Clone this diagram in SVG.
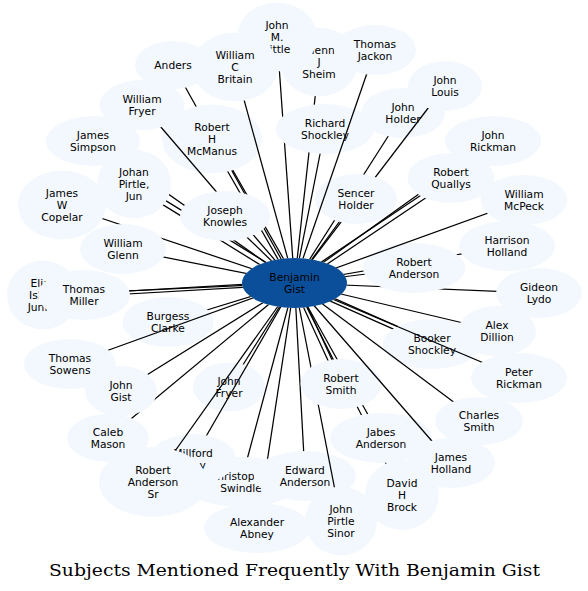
<svg xmlns="http://www.w3.org/2000/svg" width="588" height="591" viewBox="0 0 588 591">
<style>
.nd{fill:#f3f8fe}
.ctr{fill:#0b4f9b}
.lb{font-family:"DejaVu Sans","Liberation Sans",sans-serif;font-size:10.7px;text-anchor:middle;fill:#000}
.ed{stroke:#000;stroke-width:1.25;fill:none}
.ttl{font-family:"DejaVu Serif","Liberation Serif",serif;font-size:17.5px;text-anchor:middle;fill:#000}
.mk{fill:#000}
</style>
<defs>
<ellipse id="k-bg" class="mk" cx="294.5" cy="283" rx="52.5" ry="25"/>
<ellipse id="k-eli" class="mk" cx="43" cy="295" rx="36" ry="34.5"/>
<ellipse id="k-tmi" class="mk" cx="84" cy="295" rx="46" ry="25"/>
<ellipse id="k-cop" class="mk" cx="62" cy="205" rx="44" ry="34.5"/>
<ellipse id="k-wgl" class="mk" cx="123" cy="249" rx="43" ry="25"/>
<ellipse id="k-and" class="mk" cx="173" cy="65" rx="38" ry="24"/>
<ellipse id="k-mcm" class="mk" cx="212" cy="139" rx="50" ry="34.5"/>
<ellipse id="k-wfr" class="mk" cx="142" cy="105" rx="42.5" ry="25"/>
<ellipse id="k-jsi" class="mk" cx="93" cy="141" rx="47" ry="25"/>
<ellipse id="k-joh" class="mk" cx="134" cy="184" rx="37" ry="34.5"/>
<ellipse id="k-jkn" class="mk" cx="225" cy="216" rx="45" ry="25"/>
<ellipse id="k-gsh" class="mk" cx="319" cy="62" rx="39" ry="34.5"/>
<ellipse id="k-jml" class="mk" cx="277" cy="37" rx="40" ry="34.5"/>
<ellipse id="k-wcb" class="mk" cx="235" cy="67" rx="43" ry="34.5"/>
<ellipse id="k-jho" class="mk" cx="403" cy="113" rx="42" ry="25"/>
<ellipse id="k-jlo" class="mk" cx="445" cy="86" rx="37" ry="25"/>
<ellipse id="k-sho" class="mk" cx="356" cy="199" rx="41" ry="25"/>
<ellipse id="k-rsh" class="mk" cx="325" cy="129" rx="49" ry="25"/>
<ellipse id="k-tja" class="mk" cx="375" cy="50" rx="41" ry="25"/>
<ellipse id="k-jri" class="mk" cx="493" cy="141" rx="48" ry="25"/>
<ellipse id="k-rqu" class="mk" cx="451" cy="178" rx="43.5" ry="25"/>
<ellipse id="k-wmc" class="mk" cx="524" cy="200" rx="43.5" ry="25"/>
<ellipse id="k-hho" class="mk" cx="507" cy="246" rx="48" ry="25"/>
<ellipse id="k-gly" class="mk" cx="539" cy="293" rx="43" ry="25"/>
<ellipse id="k-ran" class="mk" cx="414" cy="268" rx="51" ry="25"/>
<ellipse id="k-adi" class="mk" cx="497" cy="331" rx="39" ry="25"/>
<ellipse id="k-bsh" class="mk" cx="432" cy="344" rx="49" ry="25"/>
<ellipse id="k-pri" class="mk" cx="519" cy="378" rx="48" ry="25"/>
<ellipse id="k-csm" class="mk" cx="479" cy="421" rx="44" ry="24"/>
<ellipse id="k-dhb" class="mk" cx="402" cy="495" rx="37" ry="35"/>
<ellipse id="k-jab" class="mk" cx="381" cy="438" rx="51" ry="25"/>
<ellipse id="k-jhl" class="mk" cx="451" cy="463" rx="44" ry="25"/>
<ellipse id="k-aab" class="mk" cx="257" cy="528" rx="53" ry="25"/>
<ellipse id="k-csw" class="mk" cx="241" cy="482" rx="59" ry="25"/>
<ellipse id="k-ean" class="mk" cx="305" cy="476" rx="51" ry="25"/>
<ellipse id="k-jps" class="mk" cx="341" cy="521" rx="36" ry="34.5"/>
<ellipse id="k-rsm" class="mk" cx="341" cy="384" rx="40.5" ry="25"/>
<ellipse id="k-jfr" class="mk" cx="229" cy="387" rx="36" ry="24.5"/>
<ellipse id="k-mil" class="mk" cx="193" cy="459" rx="43" ry="25"/>
<ellipse id="k-ras" class="mk" cx="153" cy="482" rx="54" ry="35"/>
<ellipse id="k-cma" class="mk" cx="108" cy="438" rx="41" ry="24"/>
<ellipse id="k-jgi" class="mk" cx="121" cy="391" rx="36" ry="25"/>
<ellipse id="k-bcl" class="mk" cx="168" cy="322" rx="45.5" ry="25"/>
<ellipse id="k-tso" class="mk" cx="70" cy="364" rx="46" ry="25"/>
<rect id="mw" width="588" height="591" fill="#fff"/>
<mask id="m-eli" maskUnits="userSpaceOnUse" x="0" y="0" width="588" height="591"><use href="#mw"/><use href="#k-bg"/><use href="#k-eli"/><use href="#k-tmi"/></mask>
<mask id="m-tmi" maskUnits="userSpaceOnUse" x="0" y="0" width="588" height="591"><use href="#mw"/><use href="#k-bg"/><use href="#k-tmi"/></mask>
<mask id="m-cop" maskUnits="userSpaceOnUse" x="0" y="0" width="588" height="591"><use href="#mw"/><use href="#k-bg"/><use href="#k-cop"/><use href="#k-wgl"/></mask>
<mask id="m-wgl" maskUnits="userSpaceOnUse" x="0" y="0" width="588" height="591"><use href="#mw"/><use href="#k-bg"/><use href="#k-wgl"/></mask>
<mask id="m-and" maskUnits="userSpaceOnUse" x="0" y="0" width="588" height="591"><use href="#mw"/><use href="#k-bg"/><use href="#k-and"/><use href="#k-mcm"/><use href="#k-jkn"/></mask>
<mask id="m-mcm" maskUnits="userSpaceOnUse" x="0" y="0" width="588" height="591"><use href="#mw"/><use href="#k-bg"/><use href="#k-mcm"/><use href="#k-jkn"/></mask>
<mask id="m-wfr" maskUnits="userSpaceOnUse" x="0" y="0" width="588" height="591"><use href="#mw"/><use href="#k-bg"/><use href="#k-wfr"/><use href="#k-jkn"/></mask>
<mask id="m-jsi" maskUnits="userSpaceOnUse" x="0" y="0" width="588" height="591"><use href="#mw"/><use href="#k-bg"/><use href="#k-jsi"/><use href="#k-joh"/><use href="#k-jkn"/></mask>
<mask id="m-joh" maskUnits="userSpaceOnUse" x="0" y="0" width="588" height="591"><use href="#mw"/><use href="#k-bg"/><use href="#k-joh"/><use href="#k-jkn"/></mask>
<mask id="m-jkn" maskUnits="userSpaceOnUse" x="0" y="0" width="588" height="591"><use href="#mw"/><use href="#k-bg"/><use href="#k-jkn"/></mask>
<mask id="m-gsh" maskUnits="userSpaceOnUse" x="0" y="0" width="588" height="591"><use href="#mw"/><use href="#k-bg"/><use href="#k-gsh"/><use href="#k-rsh"/></mask>
<mask id="m-jml" maskUnits="userSpaceOnUse" x="0" y="0" width="588" height="591"><use href="#mw"/><use href="#k-bg"/><use href="#k-jml"/><use href="#k-wcb"/><use href="#k-rsh"/></mask>
<mask id="m-wcb" maskUnits="userSpaceOnUse" x="0" y="0" width="588" height="591"><use href="#mw"/><use href="#k-bg"/><use href="#k-wcb"/></mask>
<mask id="m-jho" maskUnits="userSpaceOnUse" x="0" y="0" width="588" height="591"><use href="#mw"/><use href="#k-bg"/><use href="#k-jho"/><use href="#k-sho"/></mask>
<mask id="m-jlo" maskUnits="userSpaceOnUse" x="0" y="0" width="588" height="591"><use href="#mw"/><use href="#k-bg"/><use href="#k-jlo"/><use href="#k-sho"/></mask>
<mask id="m-sho" maskUnits="userSpaceOnUse" x="0" y="0" width="588" height="591"><use href="#mw"/><use href="#k-bg"/><use href="#k-sho"/></mask>
<mask id="m-rsh" maskUnits="userSpaceOnUse" x="0" y="0" width="588" height="591"><use href="#mw"/><use href="#k-bg"/><use href="#k-rsh"/></mask>
<mask id="m-tja" maskUnits="userSpaceOnUse" x="0" y="0" width="588" height="591"><use href="#mw"/><use href="#k-bg"/><use href="#k-tja"/></mask>
<mask id="m-jri" maskUnits="userSpaceOnUse" x="0" y="0" width="588" height="591"><use href="#mw"/><use href="#k-bg"/><use href="#k-jri"/><use href="#k-rqu"/></mask>
<mask id="m-rqu" maskUnits="userSpaceOnUse" x="0" y="0" width="588" height="591"><use href="#mw"/><use href="#k-bg"/><use href="#k-rqu"/></mask>
<mask id="m-wmc" maskUnits="userSpaceOnUse" x="0" y="0" width="588" height="591"><use href="#mw"/><use href="#k-bg"/><use href="#k-wmc"/></mask>
<mask id="m-hho" maskUnits="userSpaceOnUse" x="0" y="0" width="588" height="591"><use href="#mw"/><use href="#k-bg"/><use href="#k-hho"/><use href="#k-ran"/></mask>
<mask id="m-gly" maskUnits="userSpaceOnUse" x="0" y="0" width="588" height="591"><use href="#mw"/><use href="#k-bg"/><use href="#k-gly"/><use href="#k-ran"/></mask>
<mask id="m-ran" maskUnits="userSpaceOnUse" x="0" y="0" width="588" height="591"><use href="#mw"/><use href="#k-bg"/><use href="#k-ran"/></mask>
<mask id="m-adi" maskUnits="userSpaceOnUse" x="0" y="0" width="588" height="591"><use href="#mw"/><use href="#k-bg"/><use href="#k-adi"/></mask>
<mask id="m-bsh" maskUnits="userSpaceOnUse" x="0" y="0" width="588" height="591"><use href="#mw"/><use href="#k-bg"/><use href="#k-bsh"/></mask>
<mask id="m-pri" maskUnits="userSpaceOnUse" x="0" y="0" width="588" height="591"><use href="#mw"/><use href="#k-bg"/><use href="#k-pri"/></mask>
<mask id="m-csm" maskUnits="userSpaceOnUse" x="0" y="0" width="588" height="591"><use href="#mw"/><use href="#k-bg"/><use href="#k-csm"/></mask>
<mask id="m-dhb" maskUnits="userSpaceOnUse" x="0" y="0" width="588" height="591"><use href="#mw"/><use href="#k-bg"/><use href="#k-dhb"/><use href="#k-jab"/><use href="#k-rsm"/></mask>
<mask id="m-jab" maskUnits="userSpaceOnUse" x="0" y="0" width="588" height="591"><use href="#mw"/><use href="#k-bg"/><use href="#k-jab"/><use href="#k-rsm"/></mask>
<mask id="m-jhl" maskUnits="userSpaceOnUse" x="0" y="0" width="588" height="591"><use href="#mw"/><use href="#k-bg"/><use href="#k-jhl"/></mask>
<mask id="m-aab" maskUnits="userSpaceOnUse" x="0" y="0" width="588" height="591"><use href="#mw"/><use href="#k-bg"/><use href="#k-aab"/><use href="#k-csw"/><use href="#k-ean"/></mask>
<mask id="m-csw" maskUnits="userSpaceOnUse" x="0" y="0" width="588" height="591"><use href="#mw"/><use href="#k-bg"/><use href="#k-csw"/></mask>
<mask id="m-ean" maskUnits="userSpaceOnUse" x="0" y="0" width="588" height="591"><use href="#mw"/><use href="#k-bg"/><use href="#k-ean"/><use href="#k-rsm"/></mask>
<mask id="m-jps" maskUnits="userSpaceOnUse" x="0" y="0" width="588" height="591"><use href="#mw"/><use href="#k-bg"/><use href="#k-jps"/><use href="#k-rsm"/></mask>
<mask id="m-rsm" maskUnits="userSpaceOnUse" x="0" y="0" width="588" height="591"><use href="#mw"/><use href="#k-bg"/><use href="#k-rsm"/></mask>
<mask id="m-jfr" maskUnits="userSpaceOnUse" x="0" y="0" width="588" height="591"><use href="#mw"/><use href="#k-bg"/><use href="#k-jfr"/></mask>
<mask id="m-mil" maskUnits="userSpaceOnUse" x="0" y="0" width="588" height="591"><use href="#mw"/><use href="#k-bg"/><use href="#k-mil"/></mask>
<mask id="m-ras" maskUnits="userSpaceOnUse" x="0" y="0" width="588" height="591"><use href="#mw"/><use href="#k-bg"/><use href="#k-ras"/></mask>
<mask id="m-cma" maskUnits="userSpaceOnUse" x="0" y="0" width="588" height="591"><use href="#mw"/><use href="#k-bg"/><use href="#k-cma"/><use href="#k-jgi"/></mask>
<mask id="m-jgi" maskUnits="userSpaceOnUse" x="0" y="0" width="588" height="591"><use href="#mw"/><use href="#k-bg"/><use href="#k-jgi"/></mask>
<mask id="m-bcl" maskUnits="userSpaceOnUse" x="0" y="0" width="588" height="591"><use href="#mw"/><use href="#k-bg"/><use href="#k-bcl"/></mask>
<mask id="m-tso" maskUnits="userSpaceOnUse" x="0" y="0" width="588" height="591"><use href="#mw"/><use href="#k-bg"/><use href="#k-tso"/></mask>
</defs>
<rect width="588" height="591" fill="#fff"/>
<g id="nodes">
<g id="n-benjamin-gist"><ellipse class="ctr" cx="294.5" cy="283" rx="52.5" ry="25"/><text class="lb" x="294.5" y="281"><tspan x="294.5">Benjamin</tspan><tspan x="294.5" dy="12">Gist</tspan></text></g>
<g id="n-elias"><ellipse class="nd" cx="43" cy="295" rx="36" ry="34.5"/><text class="lb" x="43" y="287"><tspan x="43">Elias</tspan><tspan x="43" dy="12">Isbell</tspan><tspan x="43" dy="12">Junior</tspan></text></g>
<g id="n-thomas-miller"><ellipse class="nd" cx="84" cy="295" rx="46" ry="25"/><text class="lb" x="84" y="293"><tspan x="84">Thomas</tspan><tspan x="84" dy="12">Miller</tspan></text></g>
<g id="n-james-w-copelar"><ellipse class="nd" cx="62" cy="205" rx="44" ry="34.5"/><text class="lb" x="62" y="197"><tspan x="62">James</tspan><tspan x="62" dy="12">W</tspan><tspan x="62" dy="12">Copelar</tspan></text></g>
<g id="n-william-glenn"><ellipse class="nd" cx="123" cy="249" rx="43" ry="25"/><text class="lb" x="123" y="247"><tspan x="123">William</tspan><tspan x="123" dy="12">Glenn</tspan></text></g>
<g id="n-anders"><ellipse class="nd" cx="173" cy="65" rx="38" ry="24"/><text class="lb" x="173" y="69">Anders</text></g>
<g id="n-robert-h-mcmanus"><ellipse class="nd" cx="212" cy="139" rx="50" ry="34.5"/><text class="lb" x="212" y="131"><tspan x="212">Robert</tspan><tspan x="212" dy="12">H</tspan><tspan x="212" dy="12">McManus</tspan></text></g>
<g id="n-william-fryer"><ellipse class="nd" cx="142" cy="105" rx="42.5" ry="25"/><text class="lb" x="142" y="103"><tspan x="142">William</tspan><tspan x="142" dy="12">Fryer</tspan></text></g>
<g id="n-james-simpson"><ellipse class="nd" cx="93" cy="141" rx="47" ry="25"/><text class="lb" x="93" y="139"><tspan x="93">James</tspan><tspan x="93" dy="12">Simpson</tspan></text></g>
<g id="n-johan-pirtle-jun"><ellipse class="nd" cx="134" cy="184" rx="37" ry="34.5"/><text class="lb" x="134" y="176"><tspan x="134">Johan</tspan><tspan x="134" dy="12">Pirtle,</tspan><tspan x="134" dy="12">Jun</tspan></text></g>
<g id="n-joseph-knowles"><ellipse class="nd" cx="225" cy="216" rx="45" ry="25"/><text class="lb" x="225" y="214"><tspan x="225">Joseph</tspan><tspan x="225" dy="12">Knowles</tspan></text></g>
<g id="n-glenn-j-sheim"><ellipse class="nd" cx="319" cy="62" rx="39" ry="34.5"/><text class="lb" x="319" y="54"><tspan x="319">Glenn</tspan><tspan x="319" dy="12">J</tspan><tspan x="319" dy="12">Sheim</tspan></text></g>
<g id="n-john-m-little"><ellipse class="nd" cx="277" cy="37" rx="40" ry="34.5"/><text class="lb" x="277" y="29"><tspan x="277">John</tspan><tspan x="277" dy="12">M.</tspan><tspan x="277" dy="12">Little</tspan></text></g>
<g id="n-william-c-britain"><ellipse class="nd" cx="235" cy="67" rx="43" ry="34.5"/><text class="lb" x="235" y="59"><tspan x="235">William</tspan><tspan x="235" dy="12">C</tspan><tspan x="235" dy="12">Britain</tspan></text></g>
<g id="n-john-holder"><ellipse class="nd" cx="403" cy="113" rx="42" ry="25"/><text class="lb" x="403" y="111"><tspan x="403">John</tspan><tspan x="403" dy="12">Holder</tspan></text></g>
<g id="n-john-louis"><ellipse class="nd" cx="445" cy="86" rx="37" ry="25"/><text class="lb" x="445" y="84"><tspan x="445">John</tspan><tspan x="445" dy="12">Louis</tspan></text></g>
<g id="n-sencer-holder"><ellipse class="nd" cx="356" cy="199" rx="41" ry="25"/><text class="lb" x="356" y="197"><tspan x="356">Sencer</tspan><tspan x="356" dy="12">Holder</tspan></text></g>
<g id="n-richard-shockley"><ellipse class="nd" cx="325" cy="129" rx="49" ry="25"/><text class="lb" x="325" y="127"><tspan x="325">Richard</tspan><tspan x="325" dy="12">Shockley</tspan></text></g>
<g id="n-thomas-jackon"><ellipse class="nd" cx="375" cy="50" rx="41" ry="25"/><text class="lb" x="375" y="48"><tspan x="375">Thomas</tspan><tspan x="375" dy="12">Jackon</tspan></text></g>
<g id="n-john-rickman"><ellipse class="nd" cx="493" cy="141" rx="48" ry="25"/><text class="lb" x="493" y="139"><tspan x="493">John</tspan><tspan x="493" dy="12">Rickman</tspan></text></g>
<g id="n-robert-quallys"><ellipse class="nd" cx="451" cy="178" rx="43.5" ry="25"/><text class="lb" x="451" y="176"><tspan x="451">Robert</tspan><tspan x="451" dy="12">Quallys</tspan></text></g>
<g id="n-william-mcpeck"><ellipse class="nd" cx="524" cy="200" rx="43.5" ry="25"/><text class="lb" x="524" y="198"><tspan x="524">William</tspan><tspan x="524" dy="12">McPeck</tspan></text></g>
<g id="n-harrison-holland"><ellipse class="nd" cx="507" cy="246" rx="48" ry="25"/><text class="lb" x="507" y="244"><tspan x="507">Harrison</tspan><tspan x="507" dy="12">Holland</tspan></text></g>
<g id="n-gideon-lydo"><ellipse class="nd" cx="539" cy="293" rx="43" ry="25"/><text class="lb" x="539" y="291"><tspan x="539">Gideon</tspan><tspan x="539" dy="12">Lydo</tspan></text></g>
<g id="n-robert-anderson"><ellipse class="nd" cx="414" cy="268" rx="51" ry="25"/><text class="lb" x="414" y="266"><tspan x="414">Robert</tspan><tspan x="414" dy="12">Anderson</tspan></text></g>
<g id="n-alex-dillion"><ellipse class="nd" cx="497" cy="331" rx="39" ry="25"/><text class="lb" x="497" y="329"><tspan x="497">Alex</tspan><tspan x="497" dy="12">Dillion</tspan></text></g>
<g id="n-booker-shockley"><ellipse class="nd" cx="432" cy="344" rx="49" ry="25"/><text class="lb" x="432" y="342"><tspan x="432">Booker</tspan><tspan x="432" dy="12">Shockley</tspan></text></g>
<g id="n-peter-rickman"><ellipse class="nd" cx="519" cy="378" rx="48" ry="25"/><text class="lb" x="519" y="376"><tspan x="519">Peter</tspan><tspan x="519" dy="12">Rickman</tspan></text></g>
<g id="n-charles-smith"><ellipse class="nd" cx="479" cy="421" rx="44" ry="24"/><text class="lb" x="479" y="419"><tspan x="479">Charles</tspan><tspan x="479" dy="12">Smith</tspan></text></g>
<g id="n-david-h-brock"><ellipse class="nd" cx="402" cy="495" rx="37" ry="35"/><text class="lb" x="402" y="487"><tspan x="402">David</tspan><tspan x="402" dy="12">H</tspan><tspan x="402" dy="12">Brock</tspan></text></g>
<g id="n-jabes-anderson"><ellipse class="nd" cx="381" cy="438" rx="51" ry="25"/><text class="lb" x="381" y="436"><tspan x="381">Jabes</tspan><tspan x="381" dy="12">Anderson</tspan></text></g>
<g id="n-james-holland"><ellipse class="nd" cx="451" cy="463" rx="44" ry="25"/><text class="lb" x="451" y="461"><tspan x="451">James</tspan><tspan x="451" dy="12">Holland</tspan></text></g>
<g id="n-alexander-abney"><ellipse class="nd" cx="257" cy="528" rx="53" ry="25"/><text class="lb" x="257" y="526"><tspan x="257">Alexander</tspan><tspan x="257" dy="12">Abney</tspan></text></g>
<g id="n-christopher-swindle"><ellipse class="nd" cx="241" cy="482" rx="59" ry="25"/><text class="lb" x="241" y="480"><tspan x="241">Christopher</tspan><tspan x="241" dy="12">Swindle</tspan></text></g>
<g id="n-edward-anderson"><ellipse class="nd" cx="305" cy="476" rx="51" ry="25"/><text class="lb" x="305" y="474"><tspan x="305">Edward</tspan><tspan x="305" dy="12">Anderson</tspan></text></g>
<g id="n-john-pirtle-sinor"><ellipse class="nd" cx="341" cy="521" rx="36" ry="34.5"/><text class="lb" x="341" y="513"><tspan x="341">John</tspan><tspan x="341" dy="12">Pirtle</tspan><tspan x="341" dy="12">Sinor</tspan></text></g>
<g id="n-robert-smith"><ellipse class="nd" cx="341" cy="384" rx="40.5" ry="25"/><text class="lb" x="341" y="382"><tspan x="341">Robert</tspan><tspan x="341" dy="12">Smith</tspan></text></g>
<g id="n-john-fryer"><ellipse class="nd" cx="229" cy="387" rx="36" ry="24.5"/><text class="lb" x="229" y="385"><tspan x="229">John</tspan><tspan x="229" dy="12">Fryer</tspan></text></g>
<g id="n-millford"><ellipse class="nd" cx="193" cy="459" rx="43" ry="25"/><text class="lb" x="193" y="457"><tspan x="193">Millford</tspan><tspan x="193" dy="12">Gray</tspan></text></g>
<g id="n-robert-anderson-sr"><ellipse class="nd" cx="153" cy="482" rx="54" ry="35"/><text class="lb" x="153" y="474"><tspan x="153">Robert</tspan><tspan x="153" dy="12">Anderson</tspan><tspan x="153" dy="12">Sr</tspan></text></g>
<g id="n-caleb-mason"><ellipse class="nd" cx="108" cy="438" rx="41" ry="24"/><text class="lb" x="108" y="436"><tspan x="108">Caleb</tspan><tspan x="108" dy="12">Mason</tspan></text></g>
<g id="n-john-gist"><ellipse class="nd" cx="121" cy="391" rx="36" ry="25"/><text class="lb" x="121" y="389"><tspan x="121">John</tspan><tspan x="121" dy="12">Gist</tspan></text></g>
<g id="n-burgess-clarke"><ellipse class="nd" cx="168" cy="322" rx="45.5" ry="25"/><text class="lb" x="168" y="320"><tspan x="168">Burgess</tspan><tspan x="168" dy="12">Clarke</tspan></text></g>
<g id="n-thomas-sowens"><ellipse class="nd" cx="70" cy="364" rx="46" ry="25"/><text class="lb" x="70" y="362"><tspan x="70">Thomas</tspan><tspan x="70" dy="12">Sowens</tspan></text></g>
</g>
<g id="connectors">
<line class="ed" mask="url(#m-eli)" x1="294.5" y1="283" x2="43" y2="295"/>
<line class="ed" mask="url(#m-tmi)" x1="294.4" y1="281.5" x2="83.9" y2="293.5"/>
<line class="ed" mask="url(#m-tmi)" x1="294.6" y1="284.5" x2="84.1" y2="296.5"/>
<line class="ed" mask="url(#m-cop)" x1="294.5" y1="283" x2="62" y2="205"/>
<line class="ed" mask="url(#m-wgl)" x1="294.5" y1="283" x2="123" y2="249"/>
<line class="ed" mask="url(#m-and)" x1="294.5" y1="283" x2="173" y2="65"/>
<line class="ed" mask="url(#m-mcm)" x1="296.67" y1="281.76" x2="214.17" y2="137.76"/>
<line class="ed" mask="url(#m-mcm)" x1="292.33" y1="284.24" x2="209.83" y2="140.24"/>
<line class="ed" mask="url(#m-wfr)" x1="294.5" y1="283" x2="142" y2="105"/>
<line class="ed" mask="url(#m-jsi)" x1="294.5" y1="283" x2="93" y2="141"/>
<line class="ed" mask="url(#m-joh)" x1="295.81" y1="280.87" x2="135.31" y2="181.87"/>
<line class="ed" mask="url(#m-joh)" x1="293.19" y1="285.13" x2="132.69" y2="186.13"/>
<line class="ed" mask="url(#m-jkn)" x1="294.5" y1="283" x2="225" y2="216"/>
<line class="ed" mask="url(#m-gsh)" x1="294.5" y1="283" x2="319" y2="62"/>
<line class="ed" mask="url(#m-jml)" x1="294.5" y1="283" x2="277" y2="37"/>
<line class="ed" mask="url(#m-wcb)" x1="294.5" y1="283" x2="235" y2="67"/>
<line class="ed" mask="url(#m-jho)" x1="294.5" y1="283" x2="403" y2="113"/>
<line class="ed" mask="url(#m-jlo)" x1="294.5" y1="283" x2="445" y2="86"/>
<line class="ed" mask="url(#m-sho)" x1="294.5" y1="283" x2="356" y2="199"/>
<line class="ed" mask="url(#m-rsh)" x1="294.5" y1="283" x2="325" y2="129"/>
<line class="ed" mask="url(#m-tja)" x1="294.5" y1="283" x2="375" y2="50"/>
<line class="ed" mask="url(#m-jri)" x1="294.5" y1="283" x2="493" y2="141"/>
<line class="ed" mask="url(#m-rqu)" x1="295.89" y1="285.08" x2="452.39" y2="180.08"/>
<line class="ed" mask="url(#m-rqu)" x1="293.11" y1="280.92" x2="449.61" y2="175.92"/>
<line class="ed" mask="url(#m-wmc)" x1="294.5" y1="283" x2="524" y2="200"/>
<line class="ed" mask="url(#m-hho)" x1="294.5" y1="283" x2="507" y2="246"/>
<line class="ed" mask="url(#m-gly)" x1="294.5" y1="283" x2="539" y2="293"/>
<line class="ed" mask="url(#m-ran)" x1="294.5" y1="283" x2="414" y2="268"/>
<line class="ed" mask="url(#m-adi)" x1="294.5" y1="283" x2="497" y2="331"/>
<line class="ed" mask="url(#m-bsh)" x1="293.69" y1="284.83" x2="431.19" y2="345.83"/>
<line class="ed" mask="url(#m-bsh)" x1="295.31" y1="281.17" x2="432.81" y2="342.17"/>
<line class="ed" mask="url(#m-pri)" x1="294.5" y1="283" x2="519" y2="378"/>
<line class="ed" mask="url(#m-csm)" x1="294.5" y1="283" x2="479" y2="421"/>
<line class="ed" mask="url(#m-dhb)" x1="294.5" y1="283" x2="402" y2="495"/>
<line class="ed" mask="url(#m-jab)" x1="294.5" y1="283" x2="381" y2="438"/>
<line class="ed" mask="url(#m-jhl)" x1="294.5" y1="283" x2="451" y2="463"/>
<line class="ed" mask="url(#m-aab)" x1="294.5" y1="283" x2="257" y2="528"/>
<line class="ed" mask="url(#m-csw)" x1="294.5" y1="283" x2="241" y2="482"/>
<line class="ed" mask="url(#m-ean)" x1="294.5" y1="283" x2="305" y2="476"/>
<line class="ed" mask="url(#m-jps)" x1="294.5" y1="283" x2="341" y2="521"/>
<line class="ed" mask="url(#m-rsm)" x1="292.68" y1="283.84" x2="339.18" y2="384.84"/>
<line class="ed" mask="url(#m-rsm)" x1="296.32" y1="282.16" x2="342.82" y2="383.16"/>
<line class="ed" mask="url(#m-jfr)" x1="294.5" y1="283" x2="229" y2="387"/>
<line class="ed" mask="url(#m-mil)" x1="294.5" y1="283" x2="193" y2="459"/>
<line class="ed" mask="url(#m-ras)" x1="294.5" y1="283" x2="153" y2="482"/>
<line class="ed" mask="url(#m-cma)" x1="294.5" y1="283" x2="108" y2="438"/>
<line class="ed" mask="url(#m-jgi)" x1="294.5" y1="283" x2="121" y2="391"/>
<line class="ed" mask="url(#m-bcl)" x1="294.5" y1="283" x2="168" y2="322"/>
<line class="ed" mask="url(#m-tso)" x1="294.5" y1="283" x2="70" y2="364"/>
</g>
<text class="ttl" x="294.5" y="576" textLength="491" lengthAdjust="spacingAndGlyphs">Subjects Mentioned Frequently With Benjamin Gist</text>
</svg>
